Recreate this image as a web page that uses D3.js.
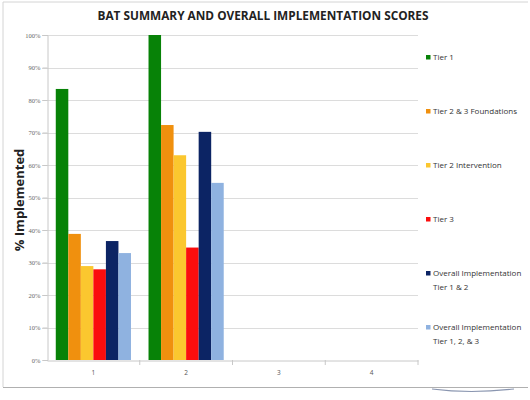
<!DOCTYPE html>
<html><head><meta charset="utf-8">
<script src="https://cdn.jsdelivr.net/npm/d3@7"></script>
<style>body{margin:0;background:#fff}svg{display:block}</style>
</head><body><svg id="c" width="530" height="400"></svg>
<script>
const categories = ["1","2","3","4"];
const seriesNames = ["Tier 1","Tier 2 & 3 Foundations","Tier 2 Intervention","Tier 3","Overall Implementation\nTier 1 & 2","Overall Implementation\nTier 1, 2, & 3"];
const tier1 = [0.834, 1.00, 0, 0];
const tier23Foundations = [0.388, 0.723, 0, 0];
const tier2Intervention = [0.289, 0.630, 0, 0];
const tier3 = [0.279, 0.346, 0, 0];
const overall12 = [0.366, 0.702, 0, 0];
const overall123 = [0.329, 0.545, 0, 0];
const colors = ["#078207","#f0900e","#fbc72f","#fb0d0d","#0c2464","#8fb2e0"];
const yTicks = [0,0.1,0.2,0.3,0.4,0.5,0.6,0.7,0.8,0.9,1.0];
const seriesValues = [tier1, tier23Foundations, tier2Intervention, tier3, overall12, overall123];

const svg = d3.select("#c");
const ff = "'Open Sans', 'Liberation Sans', sans-serif";

// frame
svg.append("path").attr("d","M3,387 L3,2 L528,2").attr("fill","none").attr("stroke","#d4d4d4").attr("stroke-width",1);
svg.append("line").attr("x1",3).attr("x2",528).attr("y1",387.5).attr("y2",387.5).attr("stroke","#b0b0b0").attr("stroke-width",1.2);
svg.append("path").attr("d","M432,389 Q470,394 514,389").attr("fill","none").attr("stroke","#8a96b0").attr("stroke-width",1.2);

const x0 = d3.scaleBand().domain(categories).range([47,418]).padding(0);
const x1 = d3.scaleBand().domain(d3.range(seriesNames.length)).range([0,x0.bandwidth()]).paddingInner(0).paddingOuter(0.7);
const y = d3.scaleLinear().domain([0,1]).range([360,35]);

// gridlines
svg.append("g").selectAll("line").data(yTicks.filter(t=>t>0)).join("line")
  .attr("x1",42).attr("x2",418).attr("y1",d=>Math.round(y(d))+0.5).attr("y2",d=>Math.round(y(d))+0.5)
  .attr("stroke","#dcdcdc").attr("stroke-width",1);

// y axis
const yAxis = d3.axisLeft(y).tickValues(yTicks).tickFormat(d3.format(".0%")).tickSize(5).tickPadding(2);
const gy = svg.append("g").attr("transform","translate(47.5,0)").call(yAxis);
gy.select(".domain").attr("stroke","#c8c8c8");
gy.selectAll(".tick line").attr("stroke","#c8c8c8");
gy.selectAll("text").attr("font-family","'Liberation Serif', serif").attr("font-size",6.5).attr("fill","#666");

// x axis
const xAxis = d3.axisBottom(x0).tickSize(0).tickPadding(10);
const gx = svg.append("g").attr("transform","translate(0,360.5)").call(xAxis);
gx.select(".domain").attr("stroke","#c8c8c8");
gx.selectAll("text").attr("font-family",ff).attr("font-size",6.5).attr("fill","#555");
svg.append("g").selectAll("line").data(categories).join("line")
  .attr("x1",d=>x0(d)+x0.bandwidth()).attr("x2",d=>x0(d)+x0.bandwidth())
  .attr("y1",360).attr("y2",365).attr("stroke","#c8c8c8");

// bars
categories.forEach((c,ci)=>{
  const g = svg.append("g").attr("transform",`translate(${x0(c)},0)`);
  g.selectAll("rect").data(seriesValues.map((s,si)=>({si,v:s[ci]}))).join("rect")
    .attr("x",d=>x1(d.si)).attr("width",x1.bandwidth())
    .attr("y",d=>y(d.v)).attr("height",d=>360-y(d.v))
    .attr("fill",d=>colors[d.si]);
});

// title
svg.append("text").attr("x",263).attr("y",20).attr("text-anchor","middle")
  .attr("font-family",ff).attr("font-weight","bold").attr("font-size",12)
  .attr("textLength",331).attr("lengthAdjust","spacingAndGlyphs").attr("fill","#222")
  .text("BAT SUMMARY AND OVERALL IMPLEMENTATION SCORES");

// y label
svg.append("text").attr("transform","translate(24,200) rotate(-90)").attr("text-anchor","middle")
  .attr("font-family",ff).attr("font-weight","bold").attr("font-size",13).attr("fill","#222")
  .text("% Implemented");

// legend
const legY = [58,112,166,220,274,328];
const lg = svg.append("g").selectAll("g").data(seriesNames).join("g")
  .attr("transform",(d,i)=>`translate(426,${legY[i]})`);
lg.append("rect").attr("x",0).attr("y",-3).attr("width",4.5).attr("height",4.5).attr("fill",(d,i)=>colors[i]);
lg.each(function(d){
  const t = d3.select(this).append("text").attr("font-family",ff).attr("font-size",8).attr("fill","#333");
  d.split("\n").forEach((line,k)=>{
    t.append("tspan").attr("x",7).attr("y",2+k*14).text(line);
  });
});
</script></body></html>
